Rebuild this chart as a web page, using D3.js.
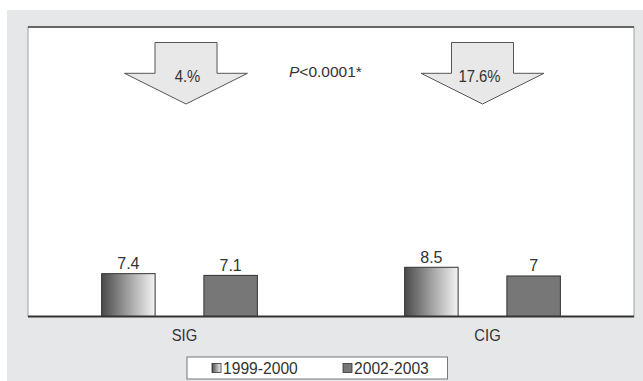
<!DOCTYPE html>
<html>
<head>
<meta charset="utf-8">
<script src="https://cdn.jsdelivr.net/npm/d3@7"></script>
<style>
  html, body { margin: 0; padding: 0; background: #fff; }
  svg { display: block; }
  text { font-family: "Liberation Sans", Arial, Helvetica, sans-serif; fill: #333; }
</style>
</head>
<body>
<svg id="chart" width="643" height="381"></svg>
<script>
// ---- data ----
const categories = ["SIG", "CIG"];
const series = ["1999-2000", "2002-2003"];
const values1999 = [7.4, 8.5];
const values2002 = [7.1, 7];
const changeLabels = ["4.%", "17.6%"];
const pLabel = "<0.0001*";

const W = 643, H = 381;
const svg = d3.select("#chart");

// condensed text helper: a text node placed via transform with horizontal squeeze
function ctext(parent, x, y, sx, size, anchor) {
  return parent.append("text")
    .attr("transform", `translate(${x},${y}) scale(${sx},1)`)
    .attr("font-size", size)
    .attr("text-anchor", anchor || "start");
}

const defs = svg.append("defs");
const grad = defs.append("linearGradient").attr("id", "g1999")
  .attr("x1", "0%").attr("x2", "100%").attr("y1", "0%").attr("y2", "0%");
grad.append("stop").attr("offset", "0%").attr("stop-color", "#4a4a4a");
grad.append("stop").attr("offset", "55%").attr("stop-color", "#a9a9a9");
grad.append("stop").attr("offset", "100%").attr("stop-color", "#f4f4f4");

// outer grey background
svg.append("rect").attr("x", 7).attr("y", 10).attr("width", W - 7).attr("height", H - 10)
  .attr("fill", "#e6e7e9");

const plot = { left: 28, right: 634, top: 27, bottom: 316.5 };

svg.append("rect").attr("x", plot.left).attr("y", plot.top)
  .attr("width", plot.right - plot.left).attr("height", plot.bottom - plot.top)
  .attr("fill", "#fff").attr("stroke", "#a0a0a0").attr("stroke-width", 1);
svg.append("line").attr("x1", plot.left).attr("x2", plot.right)
  .attr("y1", plot.top).attr("y2", plot.top).attr("stroke", "#444").attr("stroke-width", 1.6);

const x0 = d3.scaleBand().domain(categories).range([plot.left, plot.right]).padding(0);
const x1 = d3.scaleBand().domain(series).range([0, x0.bandwidth()])
  .paddingInner(0.477).paddingOuter(0.72);
const y = d3.scaleLinear().domain([0, 50]).range([plot.bottom, plot.top]);

const rows = categories.map((c, i) => ({
  cat: c,
  vals: [
    { s: series[0], v: values1999[i] },
    { s: series[1], v: values2002[i] }
  ]
}));

const fills = { "1999-2000": "url(#g1999)", "2002-2003": "#777777" };

const groups = svg.selectAll("g.grp").data(rows).join("g")
  .attr("class", "grp")
  .attr("transform", d => `translate(${x0(d.cat)},0)`);

groups.selectAll("rect").data(d => d.vals).join("rect")
  .attr("x", d => x1(d.s))
  .attr("y", d => y(d.v))
  .attr("width", x1.bandwidth())
  .attr("height", d => y(0) - y(d.v))
  .attr("fill", d => fills[d.s])
  .attr("stroke", "#333").attr("stroke-width", 1);

groups.selectAll("text.val").data(d => d.vals).join("text")
  .attr("class", "val")
  .attr("x", d => x1(d.s) + x1.bandwidth() / 2)
  .attr("y", d => y(d.v) - 4.5)
  .attr("text-anchor", "middle")
  .attr("font-size", 16)
  .text(d => d.v);

// baseline
svg.append("line").attr("x1", plot.left).attr("x2", plot.right)
  .attr("y1", y(0)).attr("y2", y(0)).attr("stroke", "#333").attr("stroke-width", 1.8);

// x axis labels (band scale axis, labels squeezed like a condensed face)
const xAxis = d3.axisBottom(x0).tickSize(0).tickPadding(0);
const ax = svg.append("g").attr("transform", `translate(5,${plot.bottom})`).call(xAxis);
ax.select(".domain").remove();
ax.selectAll("text")
  .attr("font-size", 17).attr("dy", null).attr("y", null)
  .attr("transform", "translate(0,24.5) scale(0.87,1)")
  .attr("fill", "#333")
  .style("font-family", '"Liberation Sans", Arial, sans-serif');

// arrows
const arrowOffsets = [6.5, 0];
const arrow = (cx) => {
  const sw = 31, hw = 61.5, top = 42.5, sh = 73.3, tip = 104;
  return `M${cx - sw},${top} L${cx + sw},${top} L${cx + sw},${sh} L${cx + hw},${sh} L${cx},${tip} L${cx - hw},${sh} L${cx - sw},${sh} Z`;
};
categories.forEach((c, i) => {
  const cx = x0(c) + x0.bandwidth() / 2 + arrowOffsets[i];
  svg.append("path").attr("d", arrow(cx))
    .attr("fill", "#e8e8e8").attr("stroke", "#555").attr("stroke-width", 1);
  ctext(svg, cx + (i === 0 ? 1.5 : -3), 81.5, 0.9, 16.5, "middle").text(changeLabels[i]);
});

// P value
const pt = ctext(svg, 289, 76.5, 1.0, 15.5, "start");
pt.append("tspan").attr("font-style", "italic").text("P");
pt.append("tspan").text(pLabel);

// legend
const lg = svg.append("g");
lg.append("rect").attr("x", 187).attr("y", 357).attr("width", 260.5).attr("height", 22)
  .attr("fill", "#fff").attr("stroke", "#777").attr("stroke-width", 1);
const legX = [212, 343];
series.forEach((s, i) => {
  lg.append("rect").attr("x", legX[i]).attr("y", 363.5).attr("width", 9).attr("height", 9)
    .attr("fill", fills[s]).attr("stroke", "#333").attr("stroke-width", 0.8);
  ctext(lg, legX[i] + 11, 373.5, 0.92, 17, "start").text(s);
});
</script>
</body>
</html>
